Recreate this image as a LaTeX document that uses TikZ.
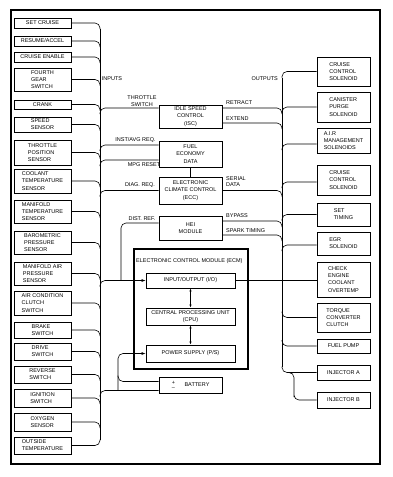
\documentclass[tikz,border=0pt]{standalone}
\usepackage{fontspec}
\setmainfont{Liberation Sans}
\usetikzlibrary{arrows.meta,calc}
\newcommand\wInL[1]{\draw[wire] (#1) -| ($(#1-|lbus)+(0,6)$);}
\newcommand\wOutL[1]{\draw[wire] ($(#1-|lbus)+(0,6)$) |- (#1);}
\newcommand\wInR[1]{\draw[wire] (#1) -| ($(#1-|rbus)+(0,6)$);}
\newcommand\wOutRu[1]{\draw[wire] ($(#1-|rbus)+(0,6)$) |- (#1);}
\newcommand\wOutRd[1]{\draw[wire] ($(#1-|rbus)+(0,-6)$) |- (#1);}
\begin{document}
\begin{tikzpicture}[x=1pt,y=-1pt,
  box/.style={draw,line width=0.9pt,inner sep=0pt,font=\fontsize{5.5}{7.2}\selectfont,align=left},
  cbox/.style={box,align=center},
  lbl/.style={font=\fontsize{5.5}{7}\selectfont,inner sep=0pt},
  wire/.style={line width=0.6pt,rounded corners=5pt},
  tip/.style={-{Latex[length=4pt,width=3pt]}},
  lb/.style={box,minimum width=57pt},
  rb/.style={box,minimum width=53pt},
  mb/.style={cbox,minimum width=63pt},
  eb/.style={cbox,minimum width=89pt},
]
\useasboundingbox (0,0) rectangle (392,477);
\fill[white] (0,0) rectangle (392,477);
\draw[line width=1.8pt] (11,10) rectangle (380,464);

\coordinate (lbus) at (100,0);
\coordinate (rbus) at (282,0);
\coordinate (pv) at (118,0);
\coordinate (dv) at (121,0);

% left inputs
\node[cbox,minimum width=57pt,minimum height=10pt] (setc) at (42.5,23) {SET CRUISE};
\node[cbox,minimum width=57pt,minimum height=10pt] (resume) at (42.5,41) {RESUME/ACCEL};
\node[cbox,minimum width=57pt,minimum height=10pt] (cen) at (42.5,57) {CRUISE ENABLE};
\node[lb,minimum height=23pt] (fourth) at (42.5,79.5) {FOURTH\\GEAR\\SWITCH};
\node[cbox,minimum width=57pt,minimum height=9pt] (crank) at (42.5,104.5) {CRANK};
\node[lb,minimum height=15pt] (speed) at (42.5,124.5) {SPEED\\SENSOR};
\node[lb,minimum height=25pt] (tps) at (42.5,152.5) {THROTTLE\\POSITION\\SENSOR};
\node[lb,minimum height=24pt] (clt) at (42.5,181) {COOLANT\\TEMPERATURE\\SENSOR};
\node[lb,minimum height=23pt] (mat) at (42.5,211.5) {MANIFOLD\\TEMPERATURE\\SENSOR};
\node[lb,minimum height=23pt] (baro) at (42.5,242.5) {BAROMETRIC\\PRESSURE\\SENSOR};
\node[lb,minimum height=23pt] (map) at (42.5,273.5) {MANIFOLD AIR\\PRESSURE\\SENSOR};
\node[lb,minimum height=24pt] (ac) at (42.5,303) {AIR CONDITION\\CLUTCH\\SWITCH};
\node[lb,minimum height=16pt] (brake) at (42.5,330) {BRAKE\\SWITCH};
\node[lb,minimum height=17pt] (drive) at (42.5,351.5) {DRIVE\\SWITCH};
\node[lb,minimum height=17pt] (rev) at (42.5,374.5) {REVERSE\\SWITCH};
\node[lb,minimum height=18pt] (ign) at (42.5,398) {IGNITION\\SWITCH};
\node[lb,minimum height=18pt] (oxy) at (42.5,422) {OXYGEN\\SENSOR};
\node[lb,minimum height=17pt] (oat) at (42.5,445.5) {OUTSIDE\\TEMPERATURE};

% middle
\node[mb,minimum height=23pt] (isc) at (190.5,116.5) {IDLE SPEED\\CONTROL\\(ISC)};
\node[mb,minimum height=26pt] (fuel) at (190.5,154) {FUEL\\ECONOMY\\DATA};
\node[mb,minimum height=27pt] (ecc) at (190.5,190.5) {ELECTRONIC\\CLIMATE CONTROL\\(ECC)};
\node[mb,minimum height=24pt] (hei) at (190.5,228) {HEI\\MODULE};
\node[draw,line width=1.5pt,minimum width=114pt,minimum height=120pt,inner sep=0pt] (ecm) at (191,309) {};
\node[lbl,anchor=west] (ecmlbl) at (136,261) {ELECTRONIC CONTROL MODULE (ECM)};
\node[eb,minimum height=15pt] (io) at (190.5,280.5) {INPUT/OUTPUT (I/O)};
\node[eb,minimum height=17pt] (cpu) at (190.5,316.5) {CENTRAL PROCESSING UNIT\\(CPU)};
\node[eb,minimum height=17pt] (ps) at (190.5,353.5) {POWER SUPPLY (P/S)};
\node[mb,minimum height=16pt] (bat) at (190.5,385) {};
\node[lbl,align=center,font=\fontsize{5.5}{5}\selectfont] (pm) at (173.5,385) {+\\\textendash};
\node[lbl] (batlbl) at (197,385) {BATTERY};

% right outputs
\node[rb,minimum height=29pt] (cc1) at (343.5,71.5) {CRUISE\\CONTROL\\SOLENOID};
\node[rb,minimum height=30pt] (can) at (343.5,107) {CANISTER\\PURGE\\SOLENOID};
\node[rb,minimum height=25pt] (air) at (343.5,140.5) {A.I.R\\MANAGEMENT\\SOLENOIDS};
\node[rb,minimum height=30pt] (cc2) at (343.5,180) {CRUISE\\CONTROL\\SOLENOID};
\node[rb,minimum height=23pt] (st) at (343.5,214.5) {SET\\TIMING};
\node[rb,minimum height=23pt] (egr) at (343.5,243.5) {EGR\\SOLENOID};
\node[rb,minimum height=35pt] (chk) at (343.5,279.5) {CHECK\\ENGINE\\COOLANT\\OVERTEMP};
\node[rb,minimum height=29pt] (tcc) at (343.5,317.5) {TORQUE\\CONVERTER\\CLUTCH};
\node[cbox,minimum width=53pt,minimum height=14pt] (fp) at (343.5,346) {FUEL PUMP};
\node[cbox,minimum width=53pt,minimum height=15pt] (inja) at (343.5,372.5) {INJECTOR A};
\node[cbox,minimum width=53pt,minimum height=16pt] (injb) at (343.5,400) {INJECTOR B};

% labels
\node[lbl] (inl) at (112,79) {INPUTS};
\node[lbl,anchor=east] (outl) at (278,79) {OUTPUTS};
\node[lbl,align=center,font=\fontsize{5.5}{6.3}\selectfont] (tsl) at (142,101) {THROTTLE\\SWITCH};
\node[lbl] (instl) at (135.5,140) {INST/AVG REQ.};
\node[lbl] (mpgl) at (144,164.5) {MPG RESET};
\node[lbl] (diagl) at (140,185.5) {DIAG. REQ.};
\node[lbl] (distl) at (142,218.5) {DIST. REF.};
\node[lbl,anchor=west] (retl) at (226,103) {RETRACT};
\node[lbl,anchor=west] (extl) at (226,119) {EXTEND};
\node[lbl,anchor=west,align=left,font=\fontsize{5.5}{6.5}\selectfont] (serl) at (226,181.5) {SERIAL\\DATA};
\node[lbl,anchor=west] (bypl) at (226,216) {BYPASS};
\node[lbl,anchor=west] (sparkl) at (226,230.5) {SPARK TIMING};

% anchor points
\coordinate (iscL) at ([yshift=8.5pt]isc.west);
\coordinate (iscR1) at ([yshift=8.5pt]isc.east);
\coordinate (iscR2) at ([yshift=-6.5pt]isc.east);
\coordinate (fuelL1) at ([yshift=9pt]fuel.west);
\coordinate (fuelL2) at ([yshift=-6pt]fuel.west);
\coordinate (heiL) at ([yshift=5pt]hei.west);
\coordinate (heiR1) at ([yshift=7pt]hei.east);
\coordinate (heiR2) at ([yshift=-7pt]hei.east);
\coordinate (batU) at ([yshift=3.5pt]bat.west);
\coordinate (batD) at ([yshift=-5.5pt]bat.west);
\coordinate (airL) at ([yshift=-3.5pt]air.west);
\coordinate (cc2L) at ([yshift=-2pt]cc2.west);
\coordinate (egrL) at ([yshift=-1.5pt]egr.west);

% left bus
\draw[wire] ($(setc.east-|lbus)+(0,6)$) -- ($(oat.east-|lbus)+(0,-6)$);
\foreach \n in {setc,resume,cen,fourth,crank,speed,tps,clt,mat,baro,map,ac,brake,drive,rev,ign,oxy}{\wInL{\n.east}}
\draw[wire] (oat.east) -| ($(oat.east-|lbus)+(0,-6)$);
\wOutL{iscL}
\wOutL{fuelL1}
\wOutL{fuelL2}
\wOutL{ecc.west}
\wOutL{batD}
\draw[wire,tip] ($(io.west-|lbus)+(0,6)$) |- (io.west);
\draw[wire] (io.west-|dv) |- (heiL);
\draw[wire,tip] (batD-|pv) |- (ps.west);
\draw[wire] ($(batU-|pv)+(0,-6)$) |- (batU);

% inner connections
\draw[line width=0.6pt] (fuel.south) -- (ecc.north);
\draw[line width=0.6pt,{Latex[length=3pt,width=2.4pt]}-{Latex[length=3pt,width=2.4pt]}] (io.south) -- (cpu.north);
\draw[line width=0.6pt,{Latex[length=3pt,width=2.4pt]}-{Latex[length=3pt,width=2.4pt]}] (cpu.south) -- (ps.north);

% right bus
\draw[wire] ($(cc1.west-|rbus)+(0,6)$) -- ($(inja.west-|rbus)+(0,-6)$);
\wOutRu{cc1.west}
\wOutRu{can.west}
\wOutRu{airL}
\wOutRu{cc2L}
\wOutRu{st.west}
\wOutRu{egrL}
\wInR{iscR1}
\wInR{iscR2}
\wInR{ecc.east}
\wInR{heiR1}
\wInR{heiR2}
\draw[wire] (io.east) -- (io.east-|chk.west);
\wOutRd{tcc.west}
\wOutRd{fp.west}
\wOutRd{inja.west}
\draw[wire] ($(inja.west-|rbus)+(6,0)$) -| ($(injb.west-|rbus)+(12,-8)$) |- (injb.west);
\end{tikzpicture}
\end{document}
